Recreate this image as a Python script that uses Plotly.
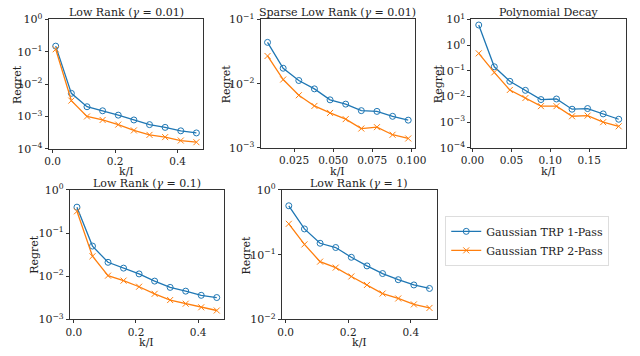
import plotly.graph_objects as go

# x values (k/I) for each panel
x_lr = [0.01, 0.06, 0.11, 0.16, 0.21, 0.26, 0.31, 0.36, 0.41, 0.46]
x_slr = [0.008, 0.018, 0.028, 0.038, 0.048, 0.058, 0.068, 0.078, 0.088, 0.098]
x_poly = [0.008, 0.028, 0.048, 0.068, 0.088, 0.108, 0.128, 0.148, 0.168, 0.188]

# Low Rank (gamma = 0.01)
lr001_1 = [0.15, 0.0052, 0.002, 0.0015, 0.0011, 0.00078, 0.00056, 0.00046, 0.00036, 0.00031]
lr001_2 = [0.12, 0.0031, 0.001, 0.00078, 0.00056, 0.00037, 0.00027, 0.00023, 0.00018, 0.00016]
# Sparse Low Rank (gamma = 0.01)
slr_1 = [0.044, 0.0174, 0.0112, 0.0083, 0.0056, 0.0048, 0.0038, 0.0037, 0.0031, 0.0027]
slr_2 = [0.027, 0.0116, 0.0066, 0.0045, 0.0035, 0.0028, 0.0020, 0.0021, 0.0016, 0.0014]
# Polynomial Decay
poly_1 = [6.1, 0.144, 0.039, 0.0174, 0.0076, 0.008, 0.0032, 0.0034, 0.0021, 0.0013]
poly_2 = [0.48, 0.087, 0.018, 0.0087, 0.0042, 0.0042, 0.0017, 0.0018, 0.001, 0.00069]
# Low Rank (gamma = 0.1)
lr01_1 = [0.40, 0.050, 0.021, 0.0154, 0.0113, 0.0077, 0.0055, 0.0045, 0.0036, 0.0032]
lr01_2 = [0.32, 0.029, 0.0103, 0.0079, 0.0057, 0.0039, 0.0028, 0.0023, 0.0019, 0.0016]
# Low Rank (gamma = 1)
lr1_1 = [0.57, 0.25, 0.15, 0.129, 0.091, 0.067, 0.051, 0.041, 0.034, 0.030]
lr1_2 = [0.30, 0.144, 0.078, 0.063, 0.046, 0.034, 0.025, 0.021, 0.017, 0.015]

titles = ["Low Rank (<i>γ</i> = 0.01)", "Sparse Low Rank (<i>γ</i> = 0.01)",
          "Polynomial Decay", "Low Rank (<i>γ</i> = 0.1)", "Low Rank (<i>γ</i> = 1)"]

W, H = 640, 356
FONT = "DejaVu Serif"
BLUE, ORANGE = "#1f77b4", "#ff7f0e"

# panel boxes in pixels: left, right, top, bottom
boxes = [(40, 200, 12, 147), (259, 419, 12, 146), (477, 637, 12, 146),
         (62, 221, 190, 325), (281, 441, 190, 325)]
xranges = [[-0.0125, 0.4825], [0.0035, 0.1025], [-0.0015, 0.1975],
           [-0.0125, 0.4825], [-0.0125, 0.4825]]
xticks = [[0.0, 0.2, 0.4], [0.025, 0.05, 0.075, 0.1], [0.0, 0.05, 0.1, 0.15],
          [0.0, 0.2, 0.4], [0.0, 0.2, 0.4]]
xticktext = [["0.0", "0.2", "0.4"], ["0.025", "0.050", "0.075", "0.100"],
             ["0.00", "0.05", "0.10", "0.15"], ["0.0", "0.2", "0.4"], ["0.0", "0.2", "0.4"]]
ydec = [(-4, 0), (-3, -1), (-4, 1), (-3, 0), (-2, 0)]
ylabel_x = [7, 224, 443, 25, 245]
xlabel_y = [171, 171, 171, 349, 349]

series = [(x_lr, lr001_1, lr001_2), (x_slr, slr_1, slr_2), (x_poly, poly_1, poly_2),
          (x_lr, lr01_1, lr01_2), (x_lr, lr1_1, lr1_2)]


def sup(n):
    if n < 0:
        return "10<sup>\u2212%d</sup>" % (-n)
    return "10<sup>%d</sup>" % n


fig = go.Figure()
annotations = []
for i, (xs, y1, y2) in enumerate(series):
    n = "" if i == 0 else str(i + 1)
    fig.add_trace(go.Scatter(
        x=xs, y=y1, name="Gaussian TRP 1-Pass", mode="lines+markers",
        line=dict(color=BLUE, width=1.3),
        marker=dict(symbol="circle-open", size=6, line=dict(width=1, color=BLUE)),
        xaxis="x" + n, yaxis="y" + n, showlegend=(i == 0)))
    fig.add_trace(go.Scatter(
        x=xs, y=y2, name="Gaussian TRP 2-Pass", mode="lines+markers",
        line=dict(color=ORANGE, width=1.3),
        marker=dict(symbol="x-thin-open", size=6, line=dict(width=1, color=ORANGE)),
        xaxis="x" + n, yaxis="y" + n, showlegend=(i == 0)))

    l, r, t, b = boxes[i]
    lo, hi = ydec[i]
    common = dict(showline=True, mirror=True, linecolor="#333", linewidth=1,
                  ticks="outside", ticklen=3, tickwidth=0.8, tickcolor="#333",
                  showgrid=False, zeroline=False)
    fig.layout["xaxis" + n] = dict(
        domain=[l / W, r / W], anchor="y" + n, range=xranges[i],
        tickvals=xticks[i], ticktext=xticktext[i],
        tickfont=dict(family=FONT, size=10.5, color="#222"), **common)
    fig.layout["yaxis" + n] = dict(
        domain=[1 - b / H, 1 - t / H], anchor="x" + n, type="log",
        range=[lo, hi], tickvals=[10 ** k for k in range(lo, hi + 1)],
        ticktext=[sup(k) for k in range(lo, hi + 1)],
        tickfont=dict(family=FONT, size=11, color="#222"), **common)

    annotations.append(dict(text=titles[i], x=(l + r) / 2 / W, y=1 - (t + 2) / H,
                            xref="paper", yref="paper", xanchor="center", yanchor="bottom",
                            showarrow=False, font=dict(family=FONT, size=11, color="#222")))
    annotations.append(dict(text="Regret", x=ylabel_x[i] / W, y=1 - (t + b) / 2 / H,
                            xref="paper", yref="paper", xanchor="center", yanchor="middle",
                            textangle=-90, showarrow=False,
                            font=dict(family=FONT, size=11, color="#222")))
    annotations.append(dict(text="k/I", x=(l + r) / 2 / W, y=1 - xlabel_y[i] / H,
                            xref="paper", yref="paper", xanchor="center", yanchor="middle",
                            showarrow=False, font=dict(family=FONT, size=11, color="#222")))

fig.update_layout(
    width=W, height=H, margin=dict(l=0, r=0, t=0, b=0),
    plot_bgcolor="white", paper_bgcolor="white",
    font=dict(family=FONT),
    annotations=annotations,
    legend=dict(x=450 / W, y=1 - 217 / H, xanchor="left", yanchor="top",
                bordercolor="#ddd", borderwidth=1, bgcolor="white",
                font=dict(family=FONT, size=11, color="#222"),
                tracegroupgap=0, itemwidth=30),
)

fig.write_html("out.html", config={"displayModeBar": False},
               post_script="document.body.style.margin='0';")
